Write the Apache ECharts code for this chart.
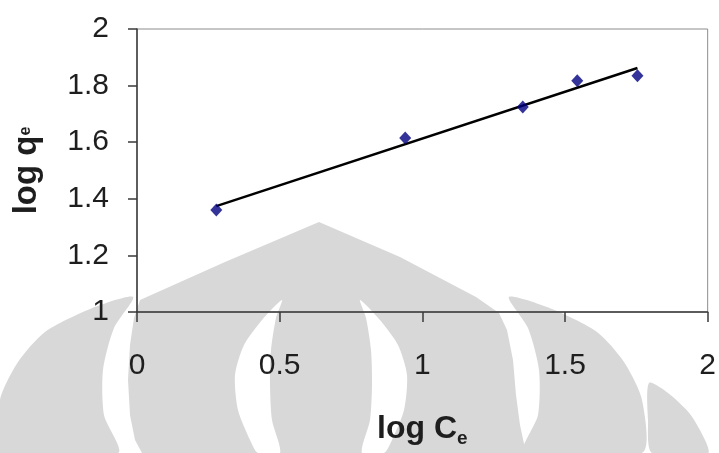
<!DOCTYPE html>
<html>
<head>
<meta charset="utf-8">
<script src="https://cdn.jsdelivr.net/npm/echarts@6/dist/echarts.min.js"></script>
<style>
  html, body { margin: 0; padding: 0; background: #fff; }
  #chart { width: 719px; height: 453px; }
</style>
</head>
<body>
<div id="chart"></div>
<script>
// measured points (log Ce, log qe)
const logCe = [0.278, 0.94, 1.352, 1.543, 1.754];
const logQe = [1.36, 1.615, 1.724, 1.817, 1.835];
// linear trendline end points
const trendX = [0.278, 1.754];
const trendY = [1.374, 1.862];

const xTicks = [0, 0.5, 1, 1.5, 2];
const yTicks = [1, 1.2, 1.4, 1.6, 1.8, 2];

const font = "'Liberation Sans', Arial, sans-serif";
const ink = "#1e1e1e";

// background watermark (pixel outlines, side pieces mirrored about x = 321)
const wmGray = "#d8d8d8";
const mirror = (pts) => pts.map(([x, y]) => [642 - x, y]);
const outerBlob = [[0, 453], [0, 400], [18, 362], [45, 332], [90, 309], [133, 297], [114, 328], [103, 370], [104, 415], [118, 453]];
const lens = [[282, 300], [262, 320], [244, 345], [235, 375], [238, 410], [250, 440], [258, 453], [280, 453], [272, 420], [270, 385], [271, 350], [276, 318]];
const centre = [[319, 222], [225, 262], [140, 300], [134, 318], [130, 345], [128, 380], [130, 415], [135, 440], [142, 453],
  [526, 453], [520, 425], [516, 395], [513, 360], [507, 330], [499, 313], [476, 297], [400, 257]];
const farBlob = [[649, 383], [668, 393], [690, 414], [705, 440], [708, 453], [652, 453], [648, 420]];

const shape = (pts, fill, smooth) => ({
  type: "polygon",
  z: -10,
  silent: true,
  shape: { points: pts, smooth: smooth },
  style: { fill }
});

const chart = echarts.init(document.getElementById("chart"), null, { renderer: "canvas" });

chart.setOption({
  animation: false,
  backgroundColor: "#fff",
  graphic: {
    elements: [
      shape(outerBlob, wmGray, 0.25),
      shape(mirror(outerBlob), wmGray, 0.25),
      shape(centre, wmGray, 0),
      shape(farBlob, wmGray, 0.25),
      shape(lens, "#fff", 0.25),
      shape(mirror(lens), "#fff", 0.25)
    ]
  },
  grid: {
    left: 137,
    right: 6,
    top: 29,
    bottom: 140,
    show: true,
    backgroundColor: "transparent",
    borderColor: "#8c8c8c",
    borderWidth: 1
  },
  xAxis: {
    type: "value",
    min: xTicks[0],
    max: xTicks[xTicks.length - 1],
    interval: 0.5,
    name: "{a|log C}{s|e}",
    nameLocation: "middle",
    nameGap: 99,
    nameTextStyle: {
      rich: {
        a: { fontFamily: font, fontSize: 32, fontWeight: "bold", color: ink },
        s: { fontFamily: font, fontSize: 19, fontWeight: "bold", color: ink, padding: [18, 0, 0, 0] }
      }
    },
    axisLine: { lineStyle: { color: "#3a3a3a", width: 1.5 } },
    axisTick: { show: true, inside: false, length: 10, lineStyle: { color: "#3a3a3a", width: 1.5 } },
    axisLabel: { fontFamily: font, fontSize: 30, color: ink, margin: 39 },
    splitLine: { show: false }
  },
  yAxis: {
    type: "value",
    min: yTicks[0],
    max: yTicks[yTicks.length - 1],
    interval: 0.2,
    name: "{a|log q}{s|e}",
    nameLocation: "middle",
    nameGap: 94,
    nameRotate: 90,
    nameTextStyle: {
      rich: {
        a: { fontFamily: font, fontSize: 33, fontWeight: "bold", color: ink },
        s: { fontFamily: font, fontSize: 16, fontWeight: "bold", color: ink, padding: [0, 0, 2, 0] }
      }
    },
    axisLine: { show: true, lineStyle: { color: "#3a3a3a", width: 1.5 } },
    axisTick: { show: true, inside: false, length: 9, lineStyle: { color: "#3a3a3a", width: 1.5 } },
    axisLabel: {
      fontFamily: font,
      fontSize: 30,
      color: ink,
      margin: 28,
      formatter: (v) => String(Math.round(v * 10) / 10)
    },
    splitLine: { show: false }
  },
  series: [
    {
      name: "trend",
      type: "line",
      data: trendX.map((x, i) => [x, trendY[i]]),
      showSymbol: false,
      lineStyle: { color: "#000", width: 2.5 },
      z: 2
    },
    {
      name: "data",
      type: "scatter",
      data: logCe.map((x, i) => [x, logQe[i]]),
      symbol: "diamond",
      symbolSize: [12, 13],
      itemStyle: { color: "#000080" },
      z: 3
    }
  ]
});
</script>
</body>
</html>
